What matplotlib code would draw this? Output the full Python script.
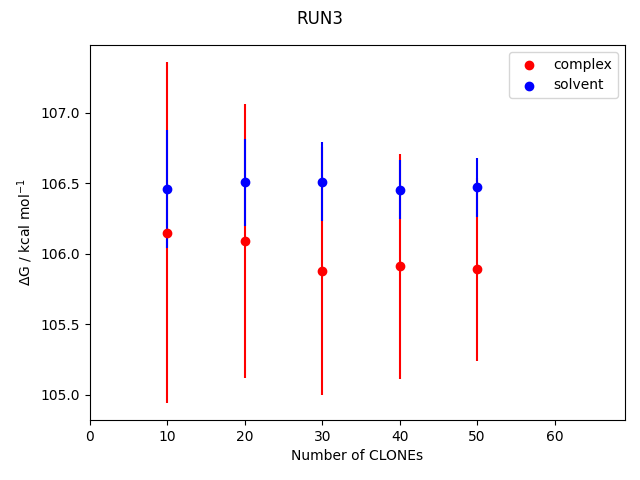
import matplotlib
matplotlib.use("Agg")
import matplotlib.pyplot as plt

clones = [10, 20, 30, 40, 50]
complex_mean = [106.15, 106.09, 105.88, 105.91, 105.89]
complex_err = [1.21, 0.97, 0.88, 0.80, 0.65]
solvent_mean = [106.46, 106.505, 106.51, 106.455, 106.47]
solvent_err = [0.42, 0.31, 0.28, 0.21, 0.21]

fig, ax = plt.subplots(figsize=(6.4, 4.8), dpi=100)
ax.errorbar(clones, complex_mean, yerr=complex_err, fmt='none', ecolor='red')
ax.errorbar(clones, solvent_mean, yerr=solvent_err, fmt='none', ecolor='blue')
ax.scatter(clones, complex_mean, color='red', label='complex', zorder=3)
ax.scatter(clones, solvent_mean, color='blue', label='solvent', zorder=3)
ax.set_xlim(0, 69.1)
ax.set_xlabel('Number of CLONEs')
ax.set_ylabel(r'$\Delta$G / kcal mol$^{-1}$')
ax.legend(loc='upper right')
fig.suptitle('RUN3')
fig.subplots_adjust(left=90/640, right=625/640, top=1-45/480, bottom=1-420/480)
fig.savefig('out.png', dpi=100)
